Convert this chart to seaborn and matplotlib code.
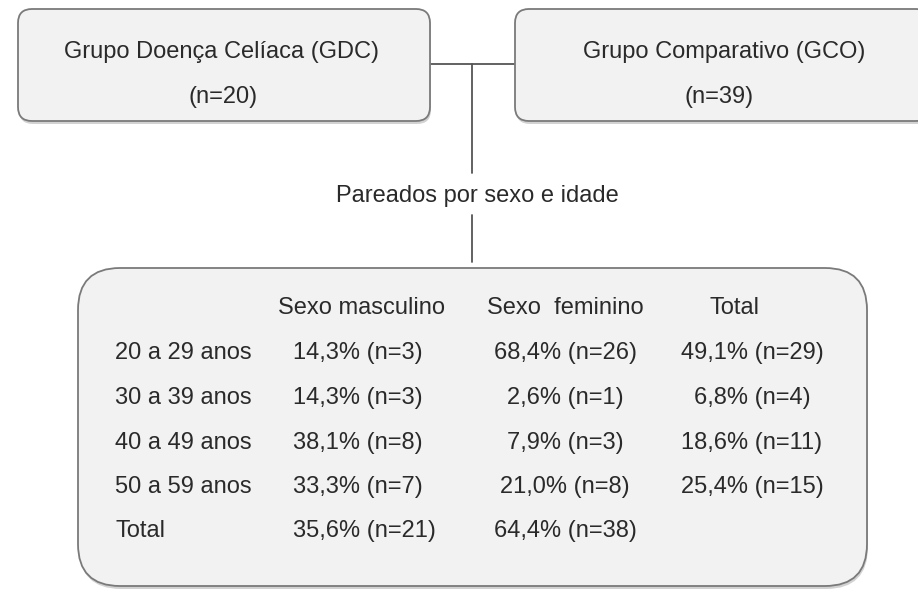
import matplotlib
matplotlib.use("Agg")
import matplotlib.pyplot as plt
from matplotlib.patches import FancyBboxPatch
import seaborn as sns

# Data
groups = ["Grupo Doença Celíaca (GDC)", "Grupo Comparativo (GCO)"]
group_n = ["(n=20)", "(n=39)"]
link_label = "Pareados por sexo e idade"
col_headers = ["Sexo masculino", "Sexo  feminino", "Total"]
age_groups = ["20 a 29 anos", "30 a 39 anos", "40 a 49 anos", "50 a 59 anos", "Total"]
male = ["14,3% (n=3)", "14,3% (n=3)", "38,1% (n=8)", "33,3% (n=7)", "35,6% (n=21)"]
female = ["68,4% (n=26)", "2,6% (n=1)", "7,9% (n=3)", "21,0% (n=8)", "64,4% (n=38)"]
total = ["49,1% (n=29)", "6,8% (n=4)", "18,6% (n=11)", "25,4% (n=15)", ""]

sns.set_theme(style="white")
plt.rcParams["font.family"] = ["Liberation Sans", "DejaVu Sans"]

W, H = 918, 590
fig = plt.figure(figsize=(W / 100, H / 100), dpi=100)
ax = fig.add_axes([0, 0, 1, 1])
ax.set_xlim(0, W)
ax.set_ylim(H, 0)
ax.axis("off")

txt = "#2a2a2a"
edge = "#7a7a7a"
fill = "#f2f2f2"
fs = 17
dy = 6  # baseline offset from the visual centre of a line


def label(x, y, s, ha="center"):
    ax.text(x, y + dy, s, ha=ha, va="baseline", fontsize=fs, color=txt, zorder=3)


def rbox(x0, y0, x1, y1, r):
    # soft shadow first, then the box
    sh = FancyBboxPatch((x0 + r + 1, y0 + r + 3), x1 - x0 - 2 * r, y1 - y0 - 2 * r,
                        boxstyle=f"round,pad={r}", fc="#b5b5b5", ec="none", alpha=0.6, zorder=1)
    ax.add_patch(sh)
    b = FancyBboxPatch((x0 + r, y0 + r), x1 - x0 - 2 * r, y1 - y0 - 2 * r,
                       boxstyle=f"round,pad={r}", fc=fill, ec=edge, lw=1.3, zorder=2)
    ax.add_patch(b)


# top boxes
rbox(18, 9, 430, 121, 14)
rbox(515, 9, 930, 121, 14)
label(222, 52, groups[0])
label(223, 97, group_n[0])
label(724, 52, groups[1])
label(719, 97, group_n[1])

# connectors
ax.plot([430, 515], [64, 64], color="#555555", lw=1.3, zorder=0)
ax.plot([472, 472], [64, 173], color="#555555", lw=1.3, zorder=0)
ax.plot([472, 472], [215, 262], color="#555555", lw=1.3, zorder=0)
label(477, 196, link_label)

# bottom table box
rbox(78, 268, 867, 586, 42)

row_y = [353, 398, 443, 487, 531]
label(361, 308, col_headers[0])
label(565, 308, col_headers[1])
label(735, 308, col_headers[2])
for y, a, m, f, t in zip(row_y, age_groups, male, female, total):
    label(115, y, a, ha="left")
    label(293, y, m, ha="left")
    label(565, y, f)
    label(752, y, t)

fig.savefig("out.png", dpi=100, facecolor="white")
